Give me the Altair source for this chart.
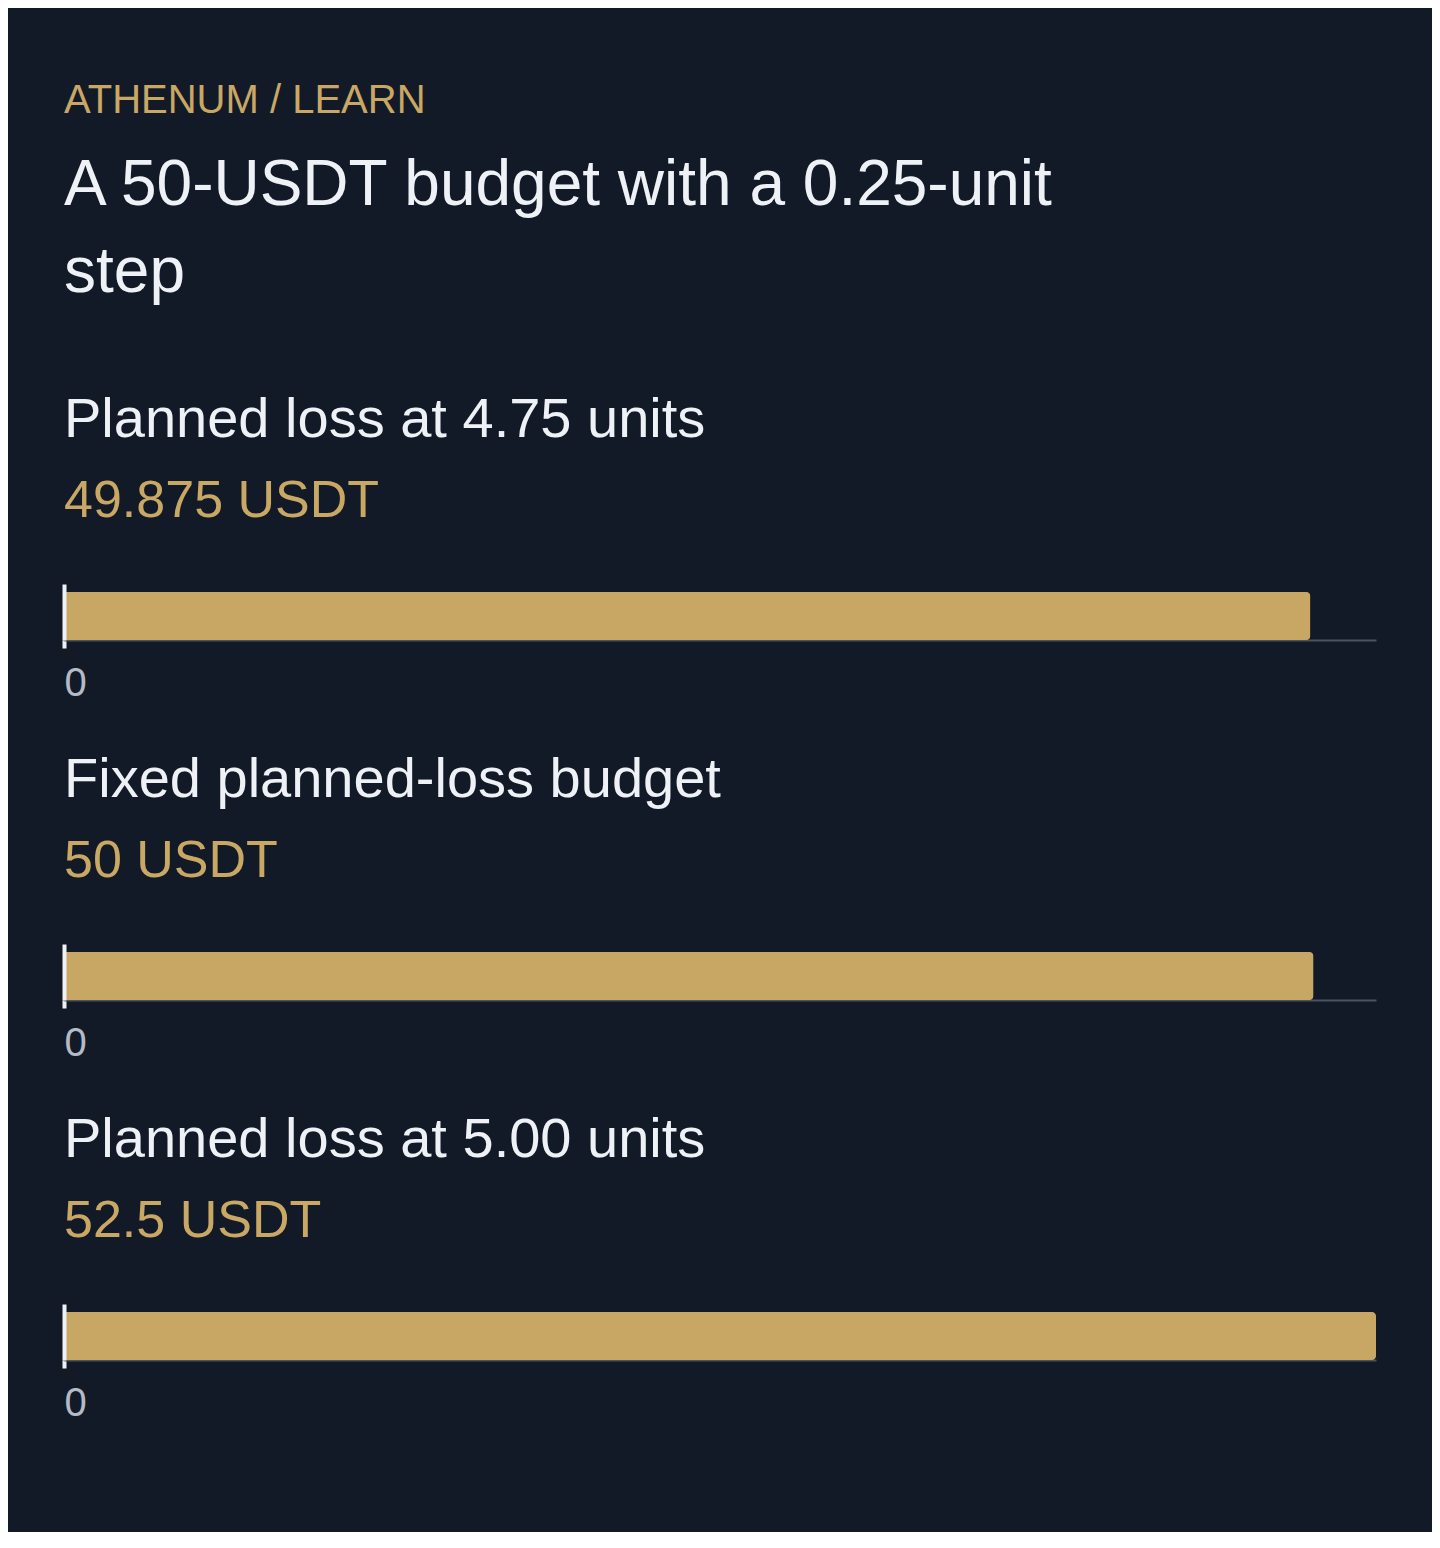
import altair as alt
import pandas as pd

# ---- data ----
kicker = "ATHENUM / LEARN"
heading_lines = ["A 50-USDT budget with a 0.25-unit", "step"]
labels = ["Planned loss at 4.75 units", "Fixed planned-loss budget", "Planned loss at 5.00 units"]
values = [49.875, 50.0, 52.5]
value_texts = ["49.875 USDT", "50 USDT", "52.5 USDT"]
x_domain = [0, 52.5]
tick_values = [0]

# ---- style ----
BG = "#131a27"
GOLD = "#c9a764"
BAR = "#c8a765"
WHITE = "#eef1f6"
GRAY_TXT = "#b3bbc7"
GRAY_LINE = "#4b5361"
FONT = "Liberation Sans"

panels = []
for lab, val, vt in zip(labels, values, value_texts):
    df = pd.DataFrame({"label": [lab], "value": [val]})
    c = (
        alt.Chart(df)
        .mark_bar(color=BAR, cornerRadiusEnd=4)
        .encode(
            x=alt.X(
                "value:Q",
                scale=alt.Scale(domain=x_domain, nice=False, zero=True),
                axis=alt.Axis(
                    values=tick_values, title=None, grid=False,
                    domainColor=GRAY_LINE, domainWidth=2,
                    tickColor=WHITE, tickWidth=4, tickSize=8,
                    labelFontSize=40, labelColor=GRAY_TXT, labelFont=FONT,
                    labelAlign="left", labelPadding=15, labelFlush=False,
                    zindex=0,
                ),
            ),
            y=alt.Y(
                "label:N",
                title=None,
                scale=alt.Scale(paddingInner=0, paddingOuter=1 / 12, align=1),
                axis=alt.Axis(
                    labels=False, ticks=False, title=None, grid=False,
                    domainColor=WHITE, domainWidth=4, zindex=1,
                ),
            ),
        )
        .properties(
            width=1312,
            height=56,
            title=alt.TitleParams(
                text=lab, subtitle=vt, anchor="start", frame="group",
                fontSize=56, font=FONT, fontWeight="normal", color=WHITE,
                subtitleFontSize=52, subtitleFont=FONT, subtitleColor=GOLD,
                subtitlePadding=27, offset=56, baseline="top",
            ),
        )
    )
    panels.append(c)

chart = (
    alt.vconcat(*panels, spacing=304, bounds="flush")
    .resolve_scale(x="independent", y="independent")
    .properties(
        title=alt.TitleParams(
            text=kicker, subtitle=heading_lines, anchor="start", frame="group",
            fontSize=40, font=FONT, fontWeight="normal", color=GOLD,
            subtitleFontSize=64, subtitleFont=FONT, subtitleColor=WHITE,
            subtitleLineHeight=87, subtitlePadding=33, offset=87, baseline="top",
        ),
        padding={"left": 54, "top": 73, "right": 56, "bottom": 109},
        background=BG,
    )
    .configure_view(stroke=None)
)

chart.save("out.html", embed_options={"renderer": "svg", "actions": False})
